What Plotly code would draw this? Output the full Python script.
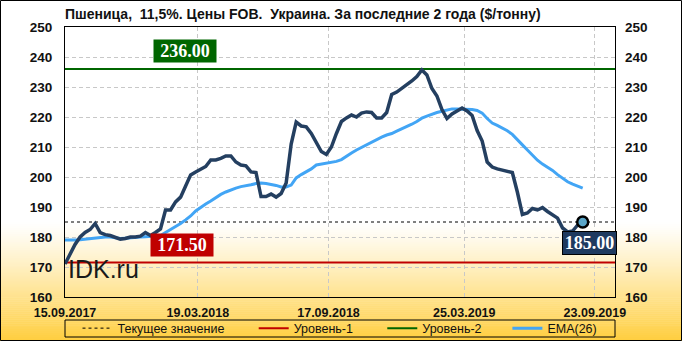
import pandas as pd
import plotly.graph_objects as go

# ---------------- data ----------------
START_DATE = "2017-09-15"
N_WEEKS = 104
dates = pd.date_range(START_DATE, periods=N_WEEKS, freq="7D")

price = [171.0, 174.5, 177.5, 180.0, 181.5, 182.5, 184.5, 181.5, 180.8, 180.5,
         179.8, 179.3, 179.5, 180.0, 180.0, 180.3, 181.5, 180.5, 181.5, 182.7,
         189.0, 189.0, 191.7, 193.3, 197.0, 200.7, 201.7, 202.5, 203.5, 205.7,
         205.7, 206.2, 207.0, 207.0, 205.0, 204.0, 203.7, 201.7, 201.5, 193.5,
         193.5, 194.3, 193.3, 194.5, 198.0, 211.0, 218.3, 217.0, 216.7, 214.5,
         211.5, 208.5, 207.5, 210.0, 214.5, 218.5, 219.7, 220.7, 220.0, 221.3,
         221.7, 221.5, 219.7, 219.7, 221.5, 227.5, 228.3, 229.5, 230.8, 232.0,
         233.5, 235.7, 234.0, 229.5, 227.0, 222.5, 219.5, 221.0, 222.0, 223.0,
         222.0, 220.5, 215.5, 212.0, 205.0, 203.3, 202.7, 202.3, 202.0, 201.5,
         195.0, 187.5, 188.0, 189.5, 189.0, 189.8, 188.5, 187.5, 186.3, 183.0,
         181.7, 182.0, 184.0, 185.0]

ema26 = [179.0, 178.9, 179.0, 179.1, 179.3, 179.5, 179.7, 179.8, 180.0, 180.0,
         179.8, 179.5, 179.6, 179.8, 180.0, 180.0, 180.1, 180.2, 180.3, 180.5,
         181.5, 182.5, 183.3, 184.5, 185.7, 187.0, 188.7, 190.0, 191.0, 192.0,
         193.2, 194.2, 195.0, 195.7, 196.3, 196.8, 197.0, 197.4, 197.8, 198.0,
         197.8, 197.6, 197.2, 196.7, 196.7, 197.3, 199.7, 200.8, 201.8, 202.7,
         204.0, 204.3, 204.5, 204.7, 205.2, 205.8, 207.0, 208.0, 209.0, 209.9,
         210.8, 211.6, 212.5, 213.3, 214.0, 214.5, 215.3, 216.0, 216.8, 217.6,
         218.5, 219.6, 220.3, 221.0, 221.5, 221.9, 222.4, 222.7, 222.7, 222.7,
         222.7, 222.5, 222.2, 221.3, 219.5, 218.0, 217.2, 216.3, 215.4, 214.2,
         212.3, 210.7, 209.0, 207.3, 205.6, 204.3, 203.3, 202.2, 200.8, 199.5,
         198.4, 197.6, 196.9, 196.3]

CURRENT = 185.00
LEVEL1 = 171.50
LEVEL2 = 236.00

X_START = "2017-09-15"
X_END = "2019-10-21"
Y_MIN, Y_MAX = 160, 250

tick_dates = ["2017-09-15", "2018-03-19", "2018-09-17", "2019-03-25", "2019-09-23"]
tick_labels = ["15.09.2017", "19.03.2018", "17.09.2018", "25.03.2019", "23.09.2019"]
y_ticks = list(range(160, 251, 10))

TITLE = "Пшеница,  11,5%. Цены FOB.  Украина. За последние 2 года ($/тонну)"

# ---------------- geometry ----------------
W, H = 682, 341
ML, MR, MT, MB = 65, 67, 27, 44
PW, PH = W - ML - MR, H - MT - MB

def px_x(p):
    return (p - ML) / PW

def px_y(p):
    return (H - MB - p) / PH

NB = "\u00a0"

fig = go.Figure()

fig.add_trace(go.Scatter(x=[X_START, X_END], y=[CURRENT, CURRENT], mode="lines",
                         line=dict(color="black", width=1, dash="3px,3px"),
                         name="Текущее значение" + NB * 7, hoverinfo="skip"))
fig.add_trace(go.Scatter(x=[X_START, X_END], y=[LEVEL1, LEVEL1], mode="lines",
                         line=dict(color="#C00000", width=2),
                         name="Уровень-1" + NB * 7, hoverinfo="skip"))
fig.add_trace(go.Scatter(x=[X_START, X_END], y=[LEVEL2, LEVEL2], mode="lines",
                         line=dict(color="#006600", width=2),
                         name="Уровень-2" + NB * 6, hoverinfo="skip"))
fig.add_trace(go.Scatter(x=dates, y=ema26, mode="lines",
                         line=dict(color="#42A5F5", width=3),
                         name="EMA(26)"))
fig.add_trace(go.Scatter(x=dates, y=price, mode="lines",
                         line=dict(color="#243F60", width=3.5),
                         showlegend=False, name="Пшеница"))
fig.add_trace(go.Scatter(x=[dates[-1]], y=[price[-1]], mode="markers",
                         marker=dict(size=11, color="#5AA6C8",
                                     line=dict(color="black", width=2.5)),
                         showlegend=False, hoverinfo="skip"))
fig.add_trace(go.Scatter(x=[X_START], y=[Y_MIN], yaxis="y2", mode="lines",
                         opacity=0, showlegend=False, hoverinfo="skip"))

# ---------------- background gradient ----------------
shapes = []
g_top, g_bot = 222, H
steps = 60
c0 = (255, 255, 255)
c1 = (255, 206, 62)
for i in range(steps):
    ya = g_top + (g_bot - g_top) * i / steps
    yb = g_top + (g_bot - g_top) * (i + 1) / steps
    t = ((i + 0.5) / steps) ** 1.15
    col = "rgb(%d,%d,%d)" % tuple(round(c0[k] + (c1[k] - c0[k]) * t) for k in range(3))
    shapes.append(dict(type="rect", xref="paper", yref="paper",
                       x0=px_x(0), x1=px_x(W), y0=px_y(yb + 0.5), y1=px_y(ya),
                       fillcolor=col, line=dict(width=0), layer="below"))
shapes.append(dict(type="rect", xref="paper", yref="paper",
                   x0=px_x(0.5), x1=px_x(W - 0.5), y0=px_y(H - 0.5), y1=px_y(0.5),
                   line=dict(color="black", width=1), fillcolor="rgba(0,0,0,0)",
                   layer="above"))
shapes.append(dict(type="rect", xref="paper", yref="paper",
                   x0=0, x1=1, y0=px_y(337), y1=px_y(320),
                   line=dict(color="black", width=1), fillcolor="rgba(0,0,0,0)",
                   layer="above"))

serif = "Liberation Serif, Times New Roman, serif"
annotations = [
    dict(text="<b>%.2f</b>" % LEVEL2, xref="paper", x=px_x(185), yref="y", y=LEVEL2,
         xanchor="center", yanchor="bottom", yshift=6, showarrow=False, bgcolor="#006600",
         font=dict(family=serif, size=18, color="white"), width=60, borderpad=1),
    dict(text="<b>%.2f</b>" % LEVEL1, xref="paper", x=px_x(182), yref="y", y=LEVEL1,
         xanchor="center", yanchor="bottom", yshift=6, showarrow=False, bgcolor="#C00000",
         font=dict(family=serif, size=18, color="white"), width=60, borderpad=1),
    dict(text="<b>%.2f</b>" % CURRENT, x=dates[-1], y=CURRENT, xref="x", yref="y",
         xanchor="center", yanchor="top", xshift=7, yshift=-9, showarrow=False,
         bgcolor="#1F3A5F", bordercolor="black", borderwidth=1,
         font=dict(family=serif, size=18, color="white"), width=51, borderpad=1),
    dict(text="IDK.ru", xref="paper", yref="paper", x=px_x(66), y=px_y(269),
         xanchor="left", yanchor="middle", showarrow=False,
         font=dict(family="Liberation Sans, Arial", size=25, color="#1a1a1a")),
]

tickfont = dict(family="Liberation Sans, Arial", size=13.5, color="#111", weight="bold")
grid = dict(showgrid=True, gridcolor="#C8C8C8", griddash="4px,3px", gridwidth=1)

fig.update_layout(
    width=W, height=H,
    margin=dict(l=ML, r=MR, t=MT, b=MB, autoexpand=False),
    paper_bgcolor="white", plot_bgcolor="rgba(0,0,0,0)",
    title=dict(text="<b>" + TITLE + "</b>", x=ML / W, xanchor="left",
               xref="container", y=1 - 14 / H, yanchor="middle",
               font=dict(family="Liberation Sans, Arial", size=14, color="#111")),
    xaxis=dict(type="date", range=[X_START, X_END], tickvals=tick_dates,
               ticktext=tick_labels, tickfont=dict(tickfont, size=12.5),
               showline=True, linecolor="black", linewidth=1, mirror=True,
               ticks="", ticklabelstandoff=4, **grid),
    yaxis=dict(range=[Y_MIN, Y_MAX], tickvals=y_ticks, tickfont=tickfont,
               showline=True, linecolor="black", linewidth=1, mirror=True,
               ticks="", ticklabelstandoff=9, zeroline=False, **grid),
    yaxis2=dict(range=[Y_MIN, Y_MAX], tickvals=y_ticks, tickfont=tickfont,
                overlaying="y", side="right", showgrid=False, zeroline=False,
                ticks="", ticklabelstandoff=9),
    legend=dict(orientation="h", x=0.5, xanchor="center", y=px_y(328.5),
                yanchor="middle", bgcolor="rgba(0,0,0,0)",
                font=dict(family="Liberation Sans, Arial", size=12.5, color="#111"),
                tracegroupgap=0),
    shapes=shapes,
    annotations=annotations,
    showlegend=True,
)

fig.write_html("out.html")
